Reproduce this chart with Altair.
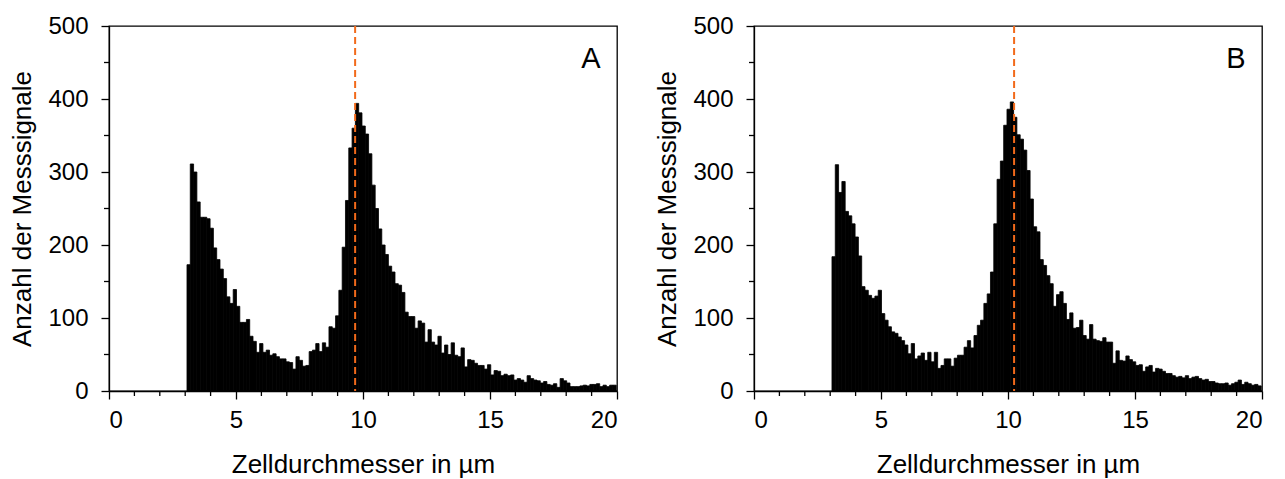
import altair as alt
import pandas as pd

# ---- data ----
BIN_START = 3.07      # lower edge of first size channel (µm)
BIN_WIDTH = 0.13      # channel width (µm)

COUNTS_A = [173, 311, 300, 259, 238, 238, 236, 223, 196, 180,
            167, 154, 129, 120, 139, 116, 94, 94, 98, 75,
            68, 53, 65, 53, 56, 49, 51, 47, 44, 44,
            40, 39, 30, 47, 42, 34, 35, 54, 56, 65,
            54, 66, 60, 88, 86, 103, 138, 197, 261, 333,
            360, 394, 381, 363, 352, 325, 282, 250, 222, 200,
            187, 171, 163, 147, 145, 135, 108, 102, 102, 86,
            96, 93, 67, 84, 67, 63, 75, 52, 63, 50,
            66, 49, 47, 59, 33, 43, 42, 38, 35, 35,
            30, 36, 22, 28, 27, 21, 23, 21, 22, 15,
            17, 15, 12, 21, 17, 15, 14, 11, 13, 9,
            8, 10, 5, 17, 14, 11, 6, 6, 6, 7,
            8, 7, 9, 9, 10, 6, 8, 6, 8, 8]

COUNTS_B = [184, 310, 272, 287, 246, 240, 229, 211, 185, 143,
            138, 131, 127, 130, 138, 106, 97, 88, 81, 79,
            74, 69, 63, 51, 65, 44, 48, 52, 42, 53,
            40, 53, 31, 35, 44, 44, 34, 45, 49, 49,
            60, 69, 59, 76, 90, 97, 120, 133, 163, 229,
            290, 315, 364, 386, 396, 375, 351, 345, 330, 302,
            263, 225, 218, 180, 172, 158, 147, 116, 132, 136,
            120, 98, 107, 86, 87, 97, 76, 71, 91, 71,
            69, 68, 73, 67, 67, 38, 55, 42, 41, 48,
            43, 40, 35, 36, 27, 33, 35, 26, 31, 30,
            27, 24, 24, 21, 19, 20, 18, 21, 17, 19,
            20, 17, 15, 16, 13, 13, 11, 10, 10, 11,
            8, 10, 12, 15, 9, 12, 10, 8, 9, 7]

MARKER_A = 9.69
MARKER_B = 10.24
PANEL_LABELS = ["A", "B"]

X_MAJOR = [0, 5, 10, 15, 20]
X_MINOR = [1, 2, 3, 4, 6, 7, 8, 9, 11, 12, 13, 14, 16, 17, 18, 19]
Y_MAJOR = [0, 100, 200, 300, 400, 500]
Y_MINOR = [50, 150, 250, 350, 450]

X_TITLE = "Zelldurchmesser in µm"
Y_TITLE = "Anzahl der Messsignale"

# ---- style ----
FONT = "Liberation Sans"
ORANGE = "#F26A1B"
W, H = 508, 365


def panel(counts, marker, letter):
    starts = [BIN_START + BIN_WIDTH * i for i in range(len(counts))]
    df = pd.DataFrame({"start": starts,
                       "end": [s + BIN_WIDTH for s in starts],
                       "count": counts})
    xs = alt.Scale(domain=[0, 20], nice=False, zero=False)
    ys = alt.Scale(domain=[0, 500], nice=False)
    x_axis = alt.Axis(values=X_MAJOR, title=X_TITLE, labelPadding=9, titlePadding=19)
    y_axis = alt.Axis(values=Y_MAJOR, title=Y_TITLE, labelPadding=13, titlePadding=12)

    bars = alt.Chart(df).mark_rect(color="black", stroke="black", strokeWidth=0.8).encode(
        x=alt.X("start:Q", scale=xs, axis=x_axis),
        x2="end:Q",
        y=alt.Y("count:Q", scale=ys, axis=y_axis),
        y2=alt.datum(0),
    )
    rule = alt.Chart(pd.DataFrame({"m": [marker]})).mark_rule(
        color=ORANGE, strokeDash=[7, 4], strokeWidth=2
    ).encode(x=alt.X("m:Q", scale=xs, axis=x_axis))

    minor_x = alt.Chart(pd.DataFrame({"t": X_MINOR})).mark_rule(
        color="black", strokeWidth=1.3
    ).encode(x=alt.X("t:Q", scale=xs, axis=x_axis), y=alt.value(H), y2=alt.value(H + 5))

    minor_y = alt.Chart(pd.DataFrame({"t": Y_MINOR})).mark_rule(
        color="black", strokeWidth=1.3
    ).encode(y=alt.Y("t:Q", scale=ys, axis=y_axis), x=alt.value(0), x2=alt.value(-5))

    text = alt.Chart(pd.DataFrame({"label": [letter]})).mark_text(
        font=FONT, fontSize=29, color="black", align="center", baseline="middle"
    ).encode(x=alt.value(482), y=alt.value(33), text="label:N")

    return alt.layer(bars, rule, minor_x, minor_y, text).properties(width=W, height=H)


chart = alt.hconcat(
    panel(COUNTS_A, MARKER_A, PANEL_LABELS[0]),
    panel(COUNTS_B, MARKER_B, PANEL_LABELS[1]),
    spacing=137, bounds="flush",
).properties(
    padding={"left": 1, "top": 5, "right": 5, "bottom": 5}
).configure_view(
    stroke="black", strokeWidth=1.3
).configure_axis(
    grid=False, domainColor="black", domainWidth=1.3, tickColor="black",
    tickWidth=1.3, tickSize=8, labelFont=FONT, labelFontSize=24, labelColor="black",
    titleFont=FONT, titleFontSize=26, titleFontWeight="normal", titleColor="black",
)

chart.save("out.html", embed_options={"renderer": "svg", "actions": False})
